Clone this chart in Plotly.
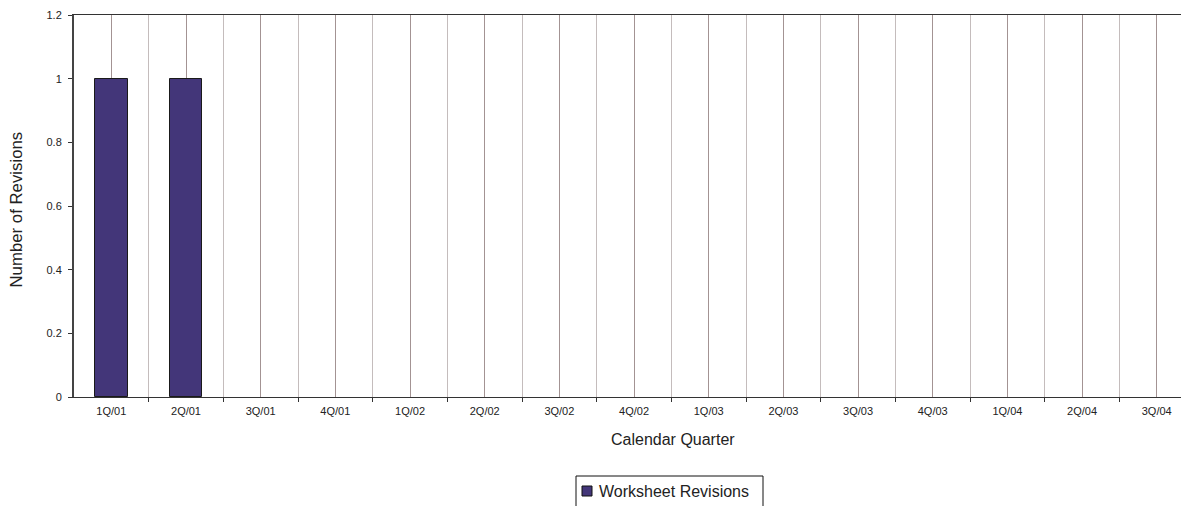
import plotly.graph_objects as go

quarters = ["1Q/01", "2Q/01", "3Q/01", "4Q/01", "1Q/02", "2Q/02", "3Q/02", "4Q/02",
            "1Q/03", "2Q/03", "3Q/03", "4Q/03", "1Q/04", "2Q/04", "3Q/04"]
revisions = [1, 1, 0, 0, 0, 0, 0, 0, 0, 0, 0, 0, 0, 0, 0]
y_ticks = [0, 0.2, 0.4, 0.6, 0.8, 1, 1.2]
y_labels = ["0", "0.2", "0.4", "0.6", "0.8", "1", "1.2"]
series_name = "Worksheet Revisions"
bar_color = "#433679"

xpos = list(range(len(quarters)))
font = "Liberation Sans, Arial, sans-serif"

# plot area geometry (pixels)
L, T, W, H = 74, 15, 1107, 382
def px(x):
    return (x - L) / W
def py(y):
    return (T + H - y) / H

fig = go.Figure()
fig.add_trace(go.Bar(
    x=xpos, y=revisions, width=0.44, name=series_name, showlegend=False,
    marker=dict(color=bar_color,
                line=dict(color="#1a1a1a", width=[1 if v else 0 for v in revisions])),
))

fig.update_layout(
    width=1181, height=506,
    margin=dict(l=L, r=1181 - L - W, t=T, b=506 - T - H, autoexpand=False),
    plot_bgcolor="white", paper_bgcolor="white",
    font=dict(family=font, color="#222"),
    showlegend=False,
    bargap=0,
)
fig.update_xaxes(
    range=[-0.5, 14.325], automargin=False,
    tickmode="array", tickvals=xpos, ticktext=quarters,
    tickfont=dict(size=11, color="#222"), ticklabelstandoff=4,
    ticks="", showgrid=True, gridcolor="#a39393", gridwidth=1,
    showline=True, linecolor="#333", linewidth=1, mirror=True,
    zeroline=False,
    minor=dict(tickmode="array", tickvals=[i + 0.5 for i in xpos],
               ticks="outside", ticklen=4, tickcolor="#333",
               showgrid=True, gridcolor="#c4bcbc", gridwidth=1),
)
fig.update_yaxes(
    range=[0, 1.2], automargin=False,
    tickmode="array", tickvals=y_ticks, ticktext=y_labels,
    tickfont=dict(size=11, color="#222"),
    ticks="outside", ticklen=4, tickcolor="#333", ticklabelstandoff=4,
    showgrid=False, showline=True, linecolor="#444", linewidth=2,
    zeroline=False,
)
fig.add_annotation(text="Calendar Quarter", xref="paper", yref="paper",
                   x=px(673), y=py(439), xanchor="center", yanchor="middle",
                   showarrow=False, font=dict(size=16, color="#222"))
fig.add_annotation(text="Number of Revisions", xref="paper", yref="paper",
                   x=px(15.5), y=py(210), xanchor="center", yanchor="middle", textangle=-90,
                   showarrow=False, font=dict(size=16.8, color="#222"))

# legend box (drawn by hand to match the original layout)
fig.add_shape(type="rect", xref="paper", yref="paper",
              x0=px(576), x1=px(763), y0=py(476), y1=py(520),
              line=dict(color="#111", width=1), fillcolor="white", layer="above")
fig.add_shape(type="rect", xref="paper", yref="paper",
              x0=px(582), x1=px(592), y0=py(486), y1=py(496),
              line=dict(color="#111", width=1), fillcolor=bar_color, layer="above")
fig.add_annotation(text=series_name, xref="paper", yref="paper",
                   x=px(597), y=py(491), xanchor="left", yanchor="middle",
                   showarrow=False, font=dict(size=16, color="#222"))

fig.write_html("out.html", config={"displayModeBar": False},
               post_script="document.body.style.margin='0';document.body.style.overflow='hidden';")
